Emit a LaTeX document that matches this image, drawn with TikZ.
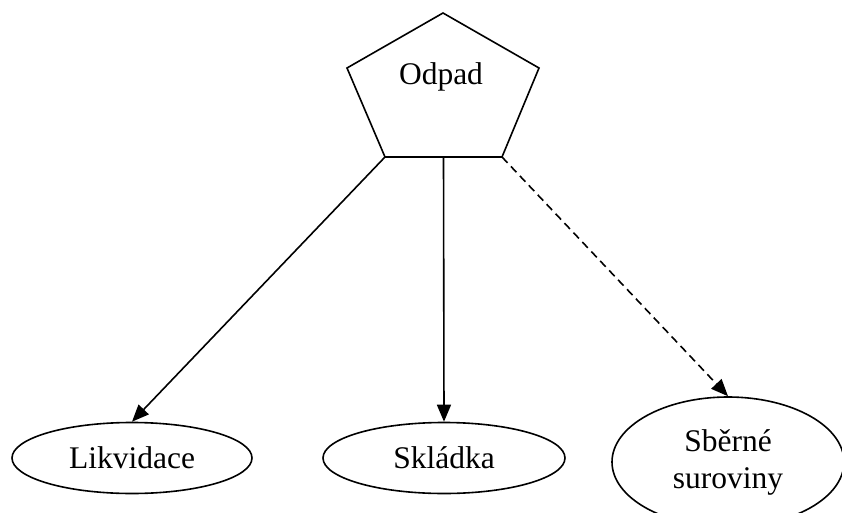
\documentclass[tikz,border=0pt]{standalone}
\usepackage{fontspec}
\setmainfont{Liberation Serif}
\usetikzlibrary{calc, shapes.geometric, arrows.meta}

\begin{document}
\begin{tikzpicture}[x=1pt, y=-1pt, line width=1.6pt,
		label text/.style={font=\fontsize{31.5}{37}\selectfont},
		target/.style={draw, ellipse, inner sep=0pt, align=center, label text},
		flow/.style={-{Triangle[length=17pt, width=14pt]}}]
	\useasboundingbox (0,0) rectangle (842,513);

	\coordinate (top) at (443,13);
	\coordinate (left) at (347,68);
	\coordinate (right) at (539,68);
	\coordinate (bl) at (385,157);
	\coordinate (br) at (502,157);
	\coordinate (bm) at ($(bl)!0.5!(br)$);
	\draw (top) -- (right) -- (br) -- (bl) -- (left) -- cycle;
	\node[label text] (odpad) at (441,77) {Odpad};

	\node[target, minimum width=240pt, minimum height=71pt] (likvidace) at (132,458) {Likvidace};
	\node[target, minimum width=242pt, minimum height=71pt] (skladka) at (444,458) {Skládka};
	\node[target, minimum width=232pt, minimum height=130pt] (suroviny) at (728,462) {Sběrné\\suroviny};

	\draw[flow] (bl) -- (likvidace.north);
	\draw[flow] (bm) -- (skladka.north);
	\draw[flow, dash pattern=on 8pt off 5pt] (br) -- (suroviny.north);

\end{tikzpicture}
\end{document}
